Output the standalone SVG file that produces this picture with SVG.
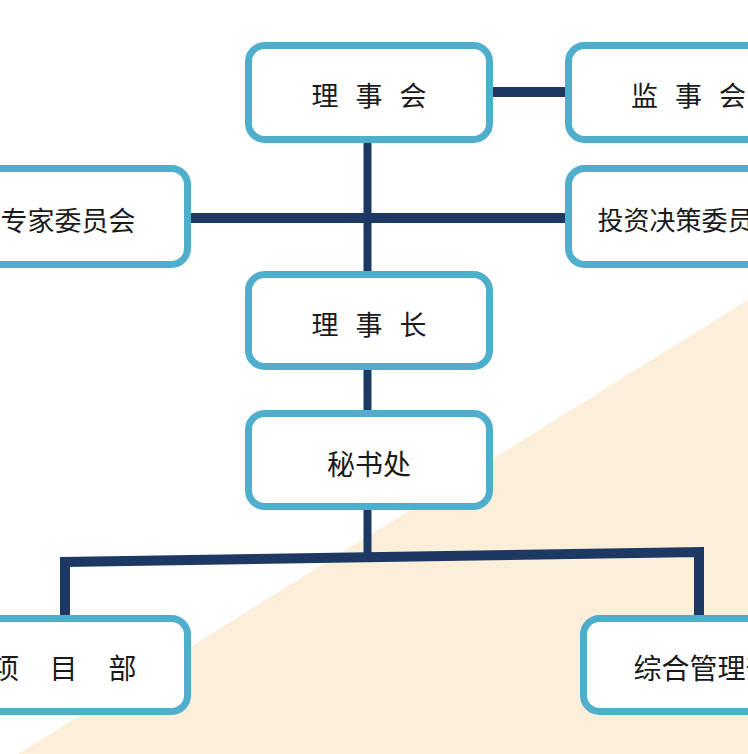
<svg xmlns="http://www.w3.org/2000/svg" width="748" height="754" viewBox="0 0 748 754">
<style>
.box{fill:#ffffff;stroke:#4eaecb;stroke-width:7}
.lbl{font-family:"Noto Sans CJK SC","Noto Sans",sans-serif;fill:#1a1a1a}
.mid{text-anchor:middle}
.conn{fill:none;stroke:#1d3963;stroke-linecap:butt;stroke-linejoin:miter}
</style>
<rect x="0" y="0" width="748" height="754" fill="#ffffff"/>
<polygon points="748,300 748,754 18,754" fill="#fcefda"/>
<g id="connectors">
<line class="conn" x1="493" y1="92" x2="565" y2="92" stroke-width="10"/>
<line class="conn" x1="367.5" y1="143" x2="367.5" y2="271" stroke-width="8"/>
<line class="conn" x1="190" y1="218" x2="565" y2="218" stroke-width="10"/>
<line class="conn" x1="367.5" y1="370" x2="367.5" y2="410" stroke-width="8"/>
<line class="conn" x1="367.5" y1="510" x2="367.5" y2="557" stroke-width="8"/>
<polyline class="conn" points="65,615 65,562 699,552 699,615" stroke-width="10"/>
</g>
<g id="n_lishihui">
<rect class="box" x="248.5" y="45.5" width="241" height="94" rx="16"/>
<text class="lbl" font-size="27" x="311.5 338.5 355.5 382.5 399.5" y="106">理 事 会</text>
</g>
<g id="n_jianshihui">
<rect class="box" x="568.5" y="45.5" width="241" height="94" rx="16"/>
<text class="lbl" font-size="27" x="631 658 675 702 719" y="106">监 事 会</text>
</g>
<g id="n_zhuanjia">
<rect class="box" x="-53.5" y="168.5" width="241" height="96" rx="16"/>
<text class="lbl mid" font-size="27" x="68" y="231">专家委员会</text>
</g>
<g id="n_touzi">
<rect class="box" x="568.5" y="168.5" width="241" height="96" rx="16"/>
<text class="lbl mid" font-size="26" x="688.5" y="230">投资决策委员会</text>
</g>
<g id="n_lishizhang">
<rect class="box" x="248.5" y="274.5" width="241" height="92" rx="16"/>
<text class="lbl" font-size="27" x="311.5 338.5 355.5 382.5 399.5" y="335">理 事 长</text>
</g>
<g id="n_mishuchu">
<rect class="box" x="248.5" y="413.5" width="241" height="93" rx="16"/>
<text class="lbl mid" font-size="28" x="369" y="475">秘书处</text>
</g>
<g id="n_xiangmubu">
<rect class="box" x="-53.5" y="618.5" width="241" height="93" rx="16"/>
<text class="lbl" font-size="28" x="-9 20 49.5 80 108.5" y="679">项 目 部</text>
</g>
<g id="n_zonghe">
<rect class="box" x="583.5" y="618.5" width="241" height="93" rx="16"/>
<text class="lbl mid" font-size="28" x="703.5" y="679">综合管理部</text>
</g>
</svg>
